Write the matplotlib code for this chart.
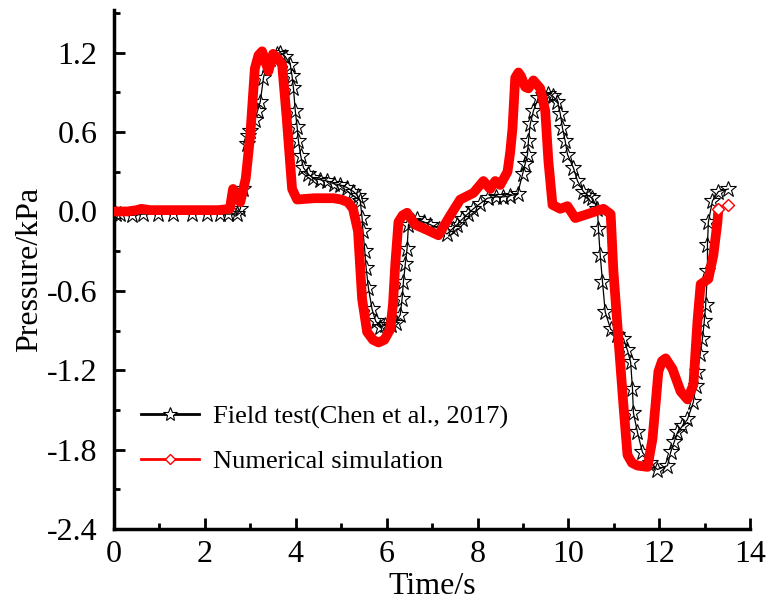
import matplotlib
matplotlib.use('Agg')
import matplotlib.pyplot as plt
from matplotlib.lines import Line2D
from matplotlib.ticker import MultipleLocator

plt.rcParams['font.family'] = ['Liberation Serif', 'DejaVu Serif']
plt.rcParams['mathtext.fontset'] = 'stix'

# field test (Chen et al., 2017)
t_field = [0.05, 0.13, 0.4, 0.64, 0.97, 1.3, 1.72, 2.05, 2.33, 2.51, 2.71, 2.78, 2.85, 2.92, 2.96,
           3.0, 3.1, 3.16, 3.22, 3.29, 3.36, 3.43, 3.5, 3.58, 3.66, 3.77, 3.88, 3.92, 3.95, 3.99,
           4.03, 4.06, 4.11, 4.17, 4.28, 4.39, 4.54, 4.69, 4.84, 4.98, 5.13, 5.27, 5.36, 5.42,
           5.46, 5.48, 5.52, 5.55, 5.6, 5.68, 5.76, 5.86, 5.97, 6.1, 6.2, 6.3, 6.34, 6.37, 6.41,
           6.45, 6.48, 6.57, 6.67, 6.82, 6.96, 7.15, 7.33, 7.45, 7.55, 7.66, 7.78, 7.91, 8.06,
           8.22, 8.4, 8.57, 8.72, 8.88, 8.99, 9.05, 9.1, 9.12, 9.16, 9.23, 9.34, 9.45, 9.56, 9.66,
           9.76, 9.82, 9.87, 9.93, 9.98, 10.11, 10.2, 10.33, 10.43, 10.53, 10.64, 10.66, 10.7,
           10.75, 10.81, 10.93, 11.07, 11.21, 11.3, 11.37, 11.41, 11.43, 11.52, 11.63, 11.8,
           11.96, 12.18, 12.25, 12.33, 12.4, 12.51, 12.62, 12.75, 12.8, 12.84, 12.9, 12.95,
           12.99, 13.02, 13.06, 13.06, 13.08, 13.17, 13.3, 13.52]
p_field = [-0.02, -0.02, -0.03, -0.02, -0.02, -0.02, -0.02, -0.02, -0.02, -0.02, -0.02, 0.02, 0.17,
           0.51, 0.57, 0.61, 0.69, 0.76, 0.83, 1.01, 1.11, 1.15, 1.17, 1.19, 1.2, 1.17, 1.11, 1.02,
           0.93, 0.76, 0.64, 0.53, 0.42, 0.33, 0.28, 0.25, 0.24, 0.23, 0.21, 0.2, 0.18, 0.15, 0.12,
           0.08, -0.05, -0.15, -0.3, -0.43, -0.58, -0.74, -0.83, -0.87, -0.86, -0.86, -0.84, -0.78,
           -0.66, -0.53, -0.4, -0.28, -0.1, -0.07, -0.06, -0.08, -0.1, -0.13, -0.17, -0.13, -0.1,
           -0.06, -0.02, 0.02, 0.06, 0.1, 0.11, 0.11, 0.12, 0.13, 0.28, 0.36, 0.43, 0.53, 0.66,
           0.76, 0.86, 0.88, 0.89, 0.87, 0.83, 0.74, 0.63, 0.53, 0.43, 0.33, 0.23, 0.15, 0.12, 0.1,
           0.02, -0.13, -0.33, -0.53, -0.76, -0.89, -0.93, -0.96, -1.05, -1.14, -1.34, -1.52,
           -1.67, -1.82, -1.9, -1.95, -1.92, -1.82, -1.74, -1.67, -1.62, -1.57, -1.44, -1.32,
           -1.21, -1.08, -0.96, -0.83, -0.71, -0.45, -0.25, -0.08, 0.08, 0.15, 0.17]

# numerical simulation
t_sim = [0.0, 0.3, 0.5, 0.6, 0.8, 1.5, 2.3, 2.55, 2.62, 2.7, 2.78, 2.9, 3.0, 3.1, 3.18, 3.26, 3.4,
         3.5, 3.62, 3.7, 3.8, 3.92, 4.03, 4.4, 4.83, 5.0, 5.15, 5.26, 5.37, 5.46, 5.57, 5.7, 5.82,
         5.95, 6.08, 6.14, 6.19, 6.26, 6.35, 6.45, 6.63, 6.89, 7.14, 7.4, 7.62, 7.91, 8.13, 8.28,
         8.39, 8.5, 8.66, 8.72, 8.77, 8.83, 8.9, 8.96, 9.05, 9.12, 9.23, 9.38, 9.49, 9.56, 9.65,
         9.82, 9.98, 10.15, 10.42, 10.77, 10.93, 10.99, 11.1, 11.21, 11.3, 11.4, 11.52, 11.74,
         11.85, 11.92, 11.98, 12.06, 12.14, 12.29, 12.47, 12.62, 12.75, 12.84, 12.91, 13.08,
         13.19, 13.28, 13.3]
p_sim = [0.0, 0.0, 0.01, 0.02, 0.01, 0.01, 0.01, 0.02, 0.17, 0.1, 0.07, 0.25, 0.58, 1.08, 1.18,
         1.21, 1.06, 1.19, 1.15, 1.11, 0.71, 0.17, 0.09, 0.1, 0.1, 0.09, 0.07, 0.02, -0.15, -0.66,
         -0.91, -0.97, -0.99, -0.97, -0.89, -0.7, -0.4, -0.08, -0.03, -0.01, -0.1, -0.14, -0.18,
         -0.03, 0.09, 0.14, 0.23, 0.17, 0.23, 0.2, 0.3, 0.45, 0.63, 1.01, 1.05, 1.02, 0.94, 0.93,
         0.99, 0.93, 0.76, 0.38, 0.05, 0.02, 0.04, -0.05, -0.02, 0.02, -0.02, -0.45, -0.96,
         -1.46, -1.84, -1.9, -1.92, -1.93, -1.72, -1.45, -1.21, -1.13, -1.11, -1.19, -1.36,
         -1.42, -1.31, -0.83, -0.55, -0.51, -0.33, -0.08, 0.02]
t_sim_end = [13.3, 13.52]
p_sim_end = [0.02, 0.05]

fig = plt.figure(figsize=(7.79, 6.04), dpi=100)
ax = fig.add_axes([0.1463, 0.124, 0.8167, 0.859])

ax.plot(t_field, p_field, color='black', lw=0.9, marker='*', ms=12, mfc='none',
        mec='black', mew=0.8, zorder=2)
ax.plot(t_sim, p_sim, color='red', lw=7, solid_joinstyle='round',
        solid_capstyle='round', zorder=3)
ax.plot(t_sim_end, p_sim_end, ls='none', marker='D', ms=6, mfc='white', mec='red',
        mew=1.0, zorder=4)

ax.set_xlim(0, 14)
ax.set_ylim(-2.4, 1.52)
ax.set_xticks([0, 2, 4, 6, 8, 10, 12, 14])
ax.set_yticks([-2.4, -1.8, -1.2, -0.6, 0.0, 0.6, 1.2])
ax.set_yticklabels(['-2.4', '-1.8', '-1.2', '-0.6', '0.0', '0.6', '1.2'])
ax.xaxis.set_minor_locator(MultipleLocator(1))
ax.yaxis.set_minor_locator(MultipleLocator(0.3))
ax.tick_params(which='both', direction='in', width=2, labelsize=23)
ax.tick_params(which='major', length=8)
ax.tick_params(which='minor', length=4)
ax.tick_params(axis='x', pad=8)
ax.tick_params(axis='y', pad=12)
for s in ['top', 'right']:
    ax.spines[s].set_visible(False)
for s in ['left', 'bottom']:
    ax.spines[s].set_linewidth(2.5)

ax.set_xlabel('Time/s', fontsize=23, labelpad=2)
ax.set_ylabel('Pressure/kPa', fontsize=23, labelpad=2)

handles = [
    Line2D([], [], color='black', lw=2, marker='*', ms=10, mfc='white', mec='black', mew=0.8),
    Line2D([], [], color='red', lw=2, marker='D', ms=5, mfc='white', mec='red', mew=1.0),
]
ax.legend(handles, ['Field test(Chen et al., 2017)', 'Numerical simulation'],
          loc='upper left', bbox_to_anchor=(0.005, 0.285), frameon=False, fontsize=19,
          handlelength=2.2, handletextpad=0.55, labelspacing=0.8)

fig.savefig('out.png', dpi=100)
